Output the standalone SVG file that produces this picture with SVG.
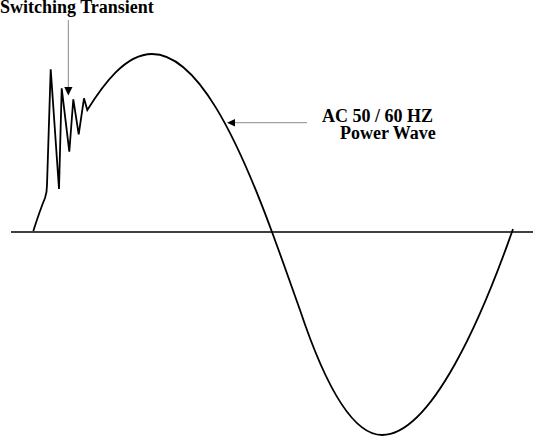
<svg xmlns="http://www.w3.org/2000/svg" width="533" height="437" viewBox="0 0 533 437">
<style>
.lbl{font-family:"Liberation Serif","Times New Roman",serif;font-weight:bold;font-size:18px;fill:#000}
.wave{fill:none;stroke:#000;stroke-width:1.8;stroke-linejoin:miter}
.ptr{stroke:#8a8a8a;stroke-width:1;fill:none}
.head{fill:#000}
</style>
<rect width="533" height="437" fill="#fff"/>
<g id="axis">
<line x1="11" y1="232" x2="533" y2="232" stroke="#000" stroke-width="1.6"/>
</g>
<g id="wave">
<path class="wave" d="M33.3,231 Q40,210 45,198 Q47,192 47,185 L50.7,69.3 L59,189 L61.7,88.3 L69.3,151.7 L73.3,99.3 L78.7,134.3 L84,98.3 L87.3,110 C103,85 125,54 152,54 C197,54 237,137 272,232 C282,259 290,282 300,310 C315,355 345,435 382,435 C432,435 483,314.5 513,229"/>
</g>
<g id="switching-transient">
<text class="lbl" x="0" y="13">Switching Transient</text>
</g>
<g id="power-wave">
<text class="lbl" x="322" y="122">AC 50 / 60 HZ</text>
<text class="lbl" x="340" y="138.5">Power Wave</text>
</g>
<g id="connectors">
<line class="ptr" x1="68.3" y1="20" x2="68.3" y2="88"/>
<polygon class="head" points="64.3,87 72.5,87 68.3,95.5"/>
<line class="ptr" x1="307" y1="122.7" x2="234" y2="122.7"/>
<polygon class="head" points="235,119 235,126.5 227,122.7"/>
</g>
</svg>
